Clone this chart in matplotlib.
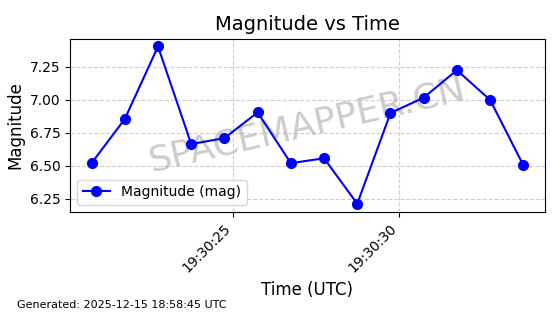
import matplotlib
matplotlib.use("Agg")
import matplotlib.pyplot as plt
import matplotlib.dates as mdates
import pandas as pd

# Dados
start = pd.Timestamp("2025-12-15 19:30:20.730")
seconds = list(range(14))
magnitudes = [6.52, 6.855, 7.405, 6.665, 6.71, 6.905, 6.52, 6.557, 6.212,
              6.90, 7.017, 7.225, 7.00, 6.505]
times = [start + pd.Timedelta(seconds=s) for s in seconds]

fig, ax = plt.subplots(figsize=(5.6, 3.14), dpi=100)
fig.subplots_adjust(left=0.125, right=0.973, top=0.877, bottom=0.326)

ax.plot(times, magnitudes, 'o-', color='blue', markersize=7, linewidth=1.5,
        label='Magnitude (mag)', zorder=3)

ax.set_title("Magnitude vs Time", fontsize=14)
ax.set_xlabel("Time (UTC)", fontsize=12)
ax.set_ylabel("Magnitude", fontsize=12)
ax.grid(True, linestyle='--', alpha=0.6)
ax.legend(loc='lower left')

ax.xaxis.set_major_locator(mdates.SecondLocator(bysecond=range(0, 60, 5)))
ax.xaxis.set_major_formatter(mdates.DateFormatter('%H:%M:%S'))
plt.setp(ax.get_xticklabels(), rotation=45, ha='right')

# Marca d'água
ax.text(0.5, 0.5, "SPACEMAPPER.CN", transform=ax.transAxes, fontsize=26,
        color='gray', alpha=0.4, rotation=13, ha='center', va='center',
        zorder=1)

fig.text(0.03, 0.02, "Generated: 2025-12-15 18:58:45 UTC", fontsize=8)

plt.savefig("out.png", dpi=100)
plt.close()
